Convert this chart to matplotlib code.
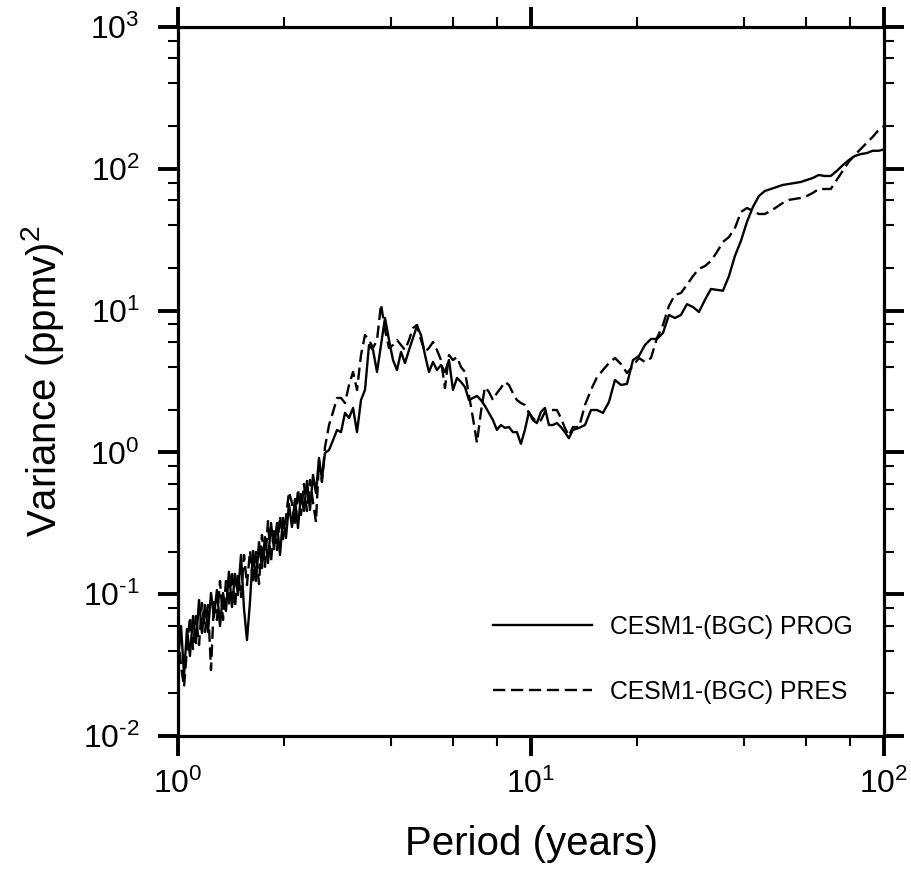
import matplotlib
matplotlib.use("Agg")
import matplotlib.pyplot as plt
import numpy as np
from matplotlib.ticker import LogLocator, NullFormatter, FuncFormatter

plt.rcParams['font.family'] = ['Liberation Sans', 'DejaVu Sans']
plt.rcParams['mathtext.fontset'] = 'custom'
plt.rcParams['mathtext.rm'] = 'Liberation Sans'
plt.rcParams['mathtext.it'] = 'Liberation Sans:italic'
plt.rcParams['axes.unicode_minus'] = False

# ---------------- data ----------------
period = [
    1.000, 1.020, 1.040, 1.060, 1.081, 1.103, 1.124, 1.147, 1.169, 1.192,
    1.216, 1.240, 1.264, 1.289, 1.315, 1.341, 1.367, 1.394, 1.422, 1.450,
    1.479, 1.508, 1.538, 1.568, 1.599, 1.631, 1.663, 1.696, 1.729, 1.763,
    1.798, 1.834, 1.870, 1.907, 1.945, 1.983, 2.022, 2.062, 2.103, 2.145,
    2.187, 2.230, 2.274, 2.319, 2.365, 2.412, 2.459, 2.508, 2.557, 2.608,
    2.678, 2.749, 2.821, 2.896, 2.972, 3.051, 3.132, 3.214, 3.299, 3.386,
    3.476, 3.568, 3.662, 3.759, 3.858, 3.960, 4.065, 4.172, 4.282, 4.395,
    4.512, 4.631, 4.753, 4.879, 5.008, 5.140, 5.276, 5.415, 5.558, 5.705,
    5.856, 6.011, 6.170, 6.333, 6.500, 6.670, 6.846, 7.027, 7.213, 7.403,
    7.599, 7.800, 8.006, 8.217, 8.434, 8.657, 8.886, 9.121, 9.362, 9.609,
    9.863, 10.12, 10.39, 10.67, 10.95, 11.24, 11.53, 11.84, 12.15, 12.47,
    12.80, 13.14,
    13.68, 14.22, 14.79, 15.38, 15.99, 16.63, 17.29, 17.98, 18.70, 19.45,
    20.22, 21.03, 21.87, 22.74, 23.65, 24.59, 25.57, 26.59, 27.65, 28.76,
    29.90, 31.10, 32.34, 33.63, 34.97, 36.37, 37.82, 39.33, 40.90, 42.53,
    44.23, 45.94, 47.77, 49.68, 51.66, 53.72, 55.87, 58.10, 60.42, 62.83,
    65.34, 67.94, 70.65, 73.47, 76.40, 79.45, 82.61, 85.91, 89.34, 92.90,
    96.61, 100.0,
]

var_prog = [
    0.0344, 0.0597, 0.0269, 0.0568, 0.0367, 0.0702, 0.0452, 0.0910, 0.0532, 0.0839,
    0.0541, 0.102, 0.0691, 0.107, 0.0597, 0.102, 0.0762, 0.144, 0.0813, 0.139,
    0.0987, 0.189, 0.0787, 0.0475, 0.0881, 0.202, 0.124, 0.233, 0.153, 0.253,
    0.166, 0.318, 0.208, 0.318, 0.189, 0.345, 0.249, 0.433, 0.298, 0.470,
    0.293, 0.509, 0.386, 0.629, 0.393, 0.693, 0.517, 0.913, 0.649, 0.991,
    1.04, 1.22, 1.44, 1.39, 1.90, 1.75, 2.06, 1.39, 2.34, 2.76,
    5.72, 5.27, 3.69, 5.72, 8.87, 6.20, 4.48, 3.81, 5.11, 4.27,
    5.27, 6.41, 7.79, 6.73, 4.86, 3.69, 4.34, 3.81, 4.13, 3.69,
    4.48, 2.76, 3.35, 3.14, 2.89, 2.34, 2.42, 2.50, 2.34, 2.13,
    1.90, 1.69, 1.44, 1.56, 1.49, 1.51, 1.39, 1.39, 1.15, 1.44,
    1.93, 1.69, 1.61, 1.93, 2.06, 1.56, 1.56, 1.61, 1.51, 1.39,
    1.26, 1.44,
    1.49, 1.56, 1.99, 1.99, 1.90, 2.27, 3.24, 2.99, 3.04, 4.48,
    4.79, 5.72, 6.31, 6.31, 6.95, 9.31, 8.87, 9.31, 11.1, 10.6,
    9.78, 11.9, 14.2, 14.0, 13.8, 17.5, 24.3, 31.0, 42.2, 53.8,
    64.3, 69.7, 72.0, 74.4, 76.9, 78.1, 79.4, 80.7, 83.4, 86.1,
    90.4, 89.0, 89.0, 96.5, 106.0, 115.0, 123.0, 127.0, 129.0, 134.0,
    134.0, 137.0,
]

var_pres = [
    0.0524, 0.0312, 0.0222, 0.0411, 0.0691, 0.0411, 0.0702, 0.0438, 0.0867, 0.0541,
    0.0839, 0.0292, 0.0881, 0.0658, 0.124, 0.0658, 0.124, 0.0839, 0.146, 0.0813,
    0.139, 0.0955, 0.189, 0.116, 0.202, 0.118, 0.202, 0.118, 0.262, 0.156,
    0.328, 0.169, 0.293, 0.205, 0.356, 0.245, 0.350, 0.526, 0.440, 0.303,
    0.552, 0.362, 0.599, 0.386, 0.639, 0.447, 0.323, 0.870, 0.619, 1.09,
    1.56, 1.93, 2.42, 2.42, 2.23, 2.99, 3.69, 2.76, 4.86, 6.73,
    6.20, 5.45, 6.20, 11.1, 7.30, 5.45, 5.72, 6.20, 5.72, 5.27,
    6.20, 7.54, 7.92, 6.20, 5.11, 5.45, 6.01, 5.27, 4.48, 2.85,
    4.86, 4.48, 4.71, 4.00, 3.69, 2.54, 1.75, 1.17, 1.93, 2.89,
    2.67, 2.34, 2.62, 2.85, 3.14, 2.99, 2.62, 2.34, 2.23, 2.16,
    1.90, 1.75, 1.64, 1.69, 1.93, 1.99, 1.99, 1.99, 1.75, 1.49,
    1.31, 1.51,
    1.51, 2.16, 2.76, 3.40, 3.81, 4.27, 4.63, 4.20, 3.63, 4.07,
    4.63, 4.34, 4.63, 6.41, 7.92, 10.8, 12.9, 13.3, 15.2, 17.5,
    19.7, 20.6, 22.4, 25.9, 30.5, 33.0, 38.2, 49.6, 52.9, 50.4,
    48.0, 48.0, 50.4, 53.8, 57.4, 60.3, 61.3, 62.3, 64.3, 67.5,
    72.0, 72.0, 72.0, 83.4, 96.5, 112.0, 125.0, 138.0, 152.0, 168.0,
    188.0, 200.0,
]

series_labels = ['CESM1-(BGC) PROG', 'CESM1-(BGC) PRES']
x_label = 'Period (years)'
y_label = r'Variance (ppmv)$^2$'

assert len(period) == len(var_prog) == len(var_pres)

# ---------------- figure ----------------
fig = plt.figure(figsize=(9.12, 8.73), dpi=100)
ax = fig.add_axes([0.1952, 0.1569, 0.7741, 0.8122])

lw = 1.7
ax.plot(period, var_prog, color='black', lw=lw, label=series_labels[0])
ax.plot(period, var_pres, color='black', lw=lw, linestyle=(0, (5.2, 2.4)),
        label=series_labels[1])

ax.set_xscale('log')
ax.set_yscale('log')
ax.set_xlim(1, 100)
ax.set_ylim(1e-2, 1e3)


def pow_label(v, pos):
    e = int(round(np.log10(v)))
    if e < 0:
        return r'$10^{\text{-}%d}$' % (-e)
    return r'$10^{%d}$' % e


fmt = FuncFormatter(pow_label)
for axis in (ax.xaxis, ax.yaxis):
    axis.set_major_locator(LogLocator(base=10, numticks=20))
    axis.set_minor_locator(LogLocator(base=10, subs=[2, 4, 6, 8], numticks=50))
    axis.set_major_formatter(fmt)
    axis.set_minor_formatter(NullFormatter())

for s in ax.spines.values():
    s.set_linewidth(2.3)

ax.tick_params(which='both', direction='out', top=True, right=True)
ax.tick_params(which='major', length=14.5, width=2.8, labelsize=23)
ax.tick_params(which='minor', length=7, width=1.5)
ax.tick_params(axis='x', which='major', pad=9)
ax.tick_params(axis='y', which='major', pad=13)

ax.set_xlabel(x_label, fontsize=29)
ax.set_ylabel(y_label, fontsize=29)
ax.xaxis.set_label_coords(0.5, -0.125)
ax.yaxis.set_label_coords(-0.158, 0.5)

leg = ax.legend(loc='lower left', bbox_to_anchor=(0.446, 0.045), frameon=False,
                fontsize=17.8, handlelength=4.0, handletextpad=0.72,
                labelspacing=1.66, borderpad=0, borderaxespad=0)

fig.savefig('out.png', dpi=100)
